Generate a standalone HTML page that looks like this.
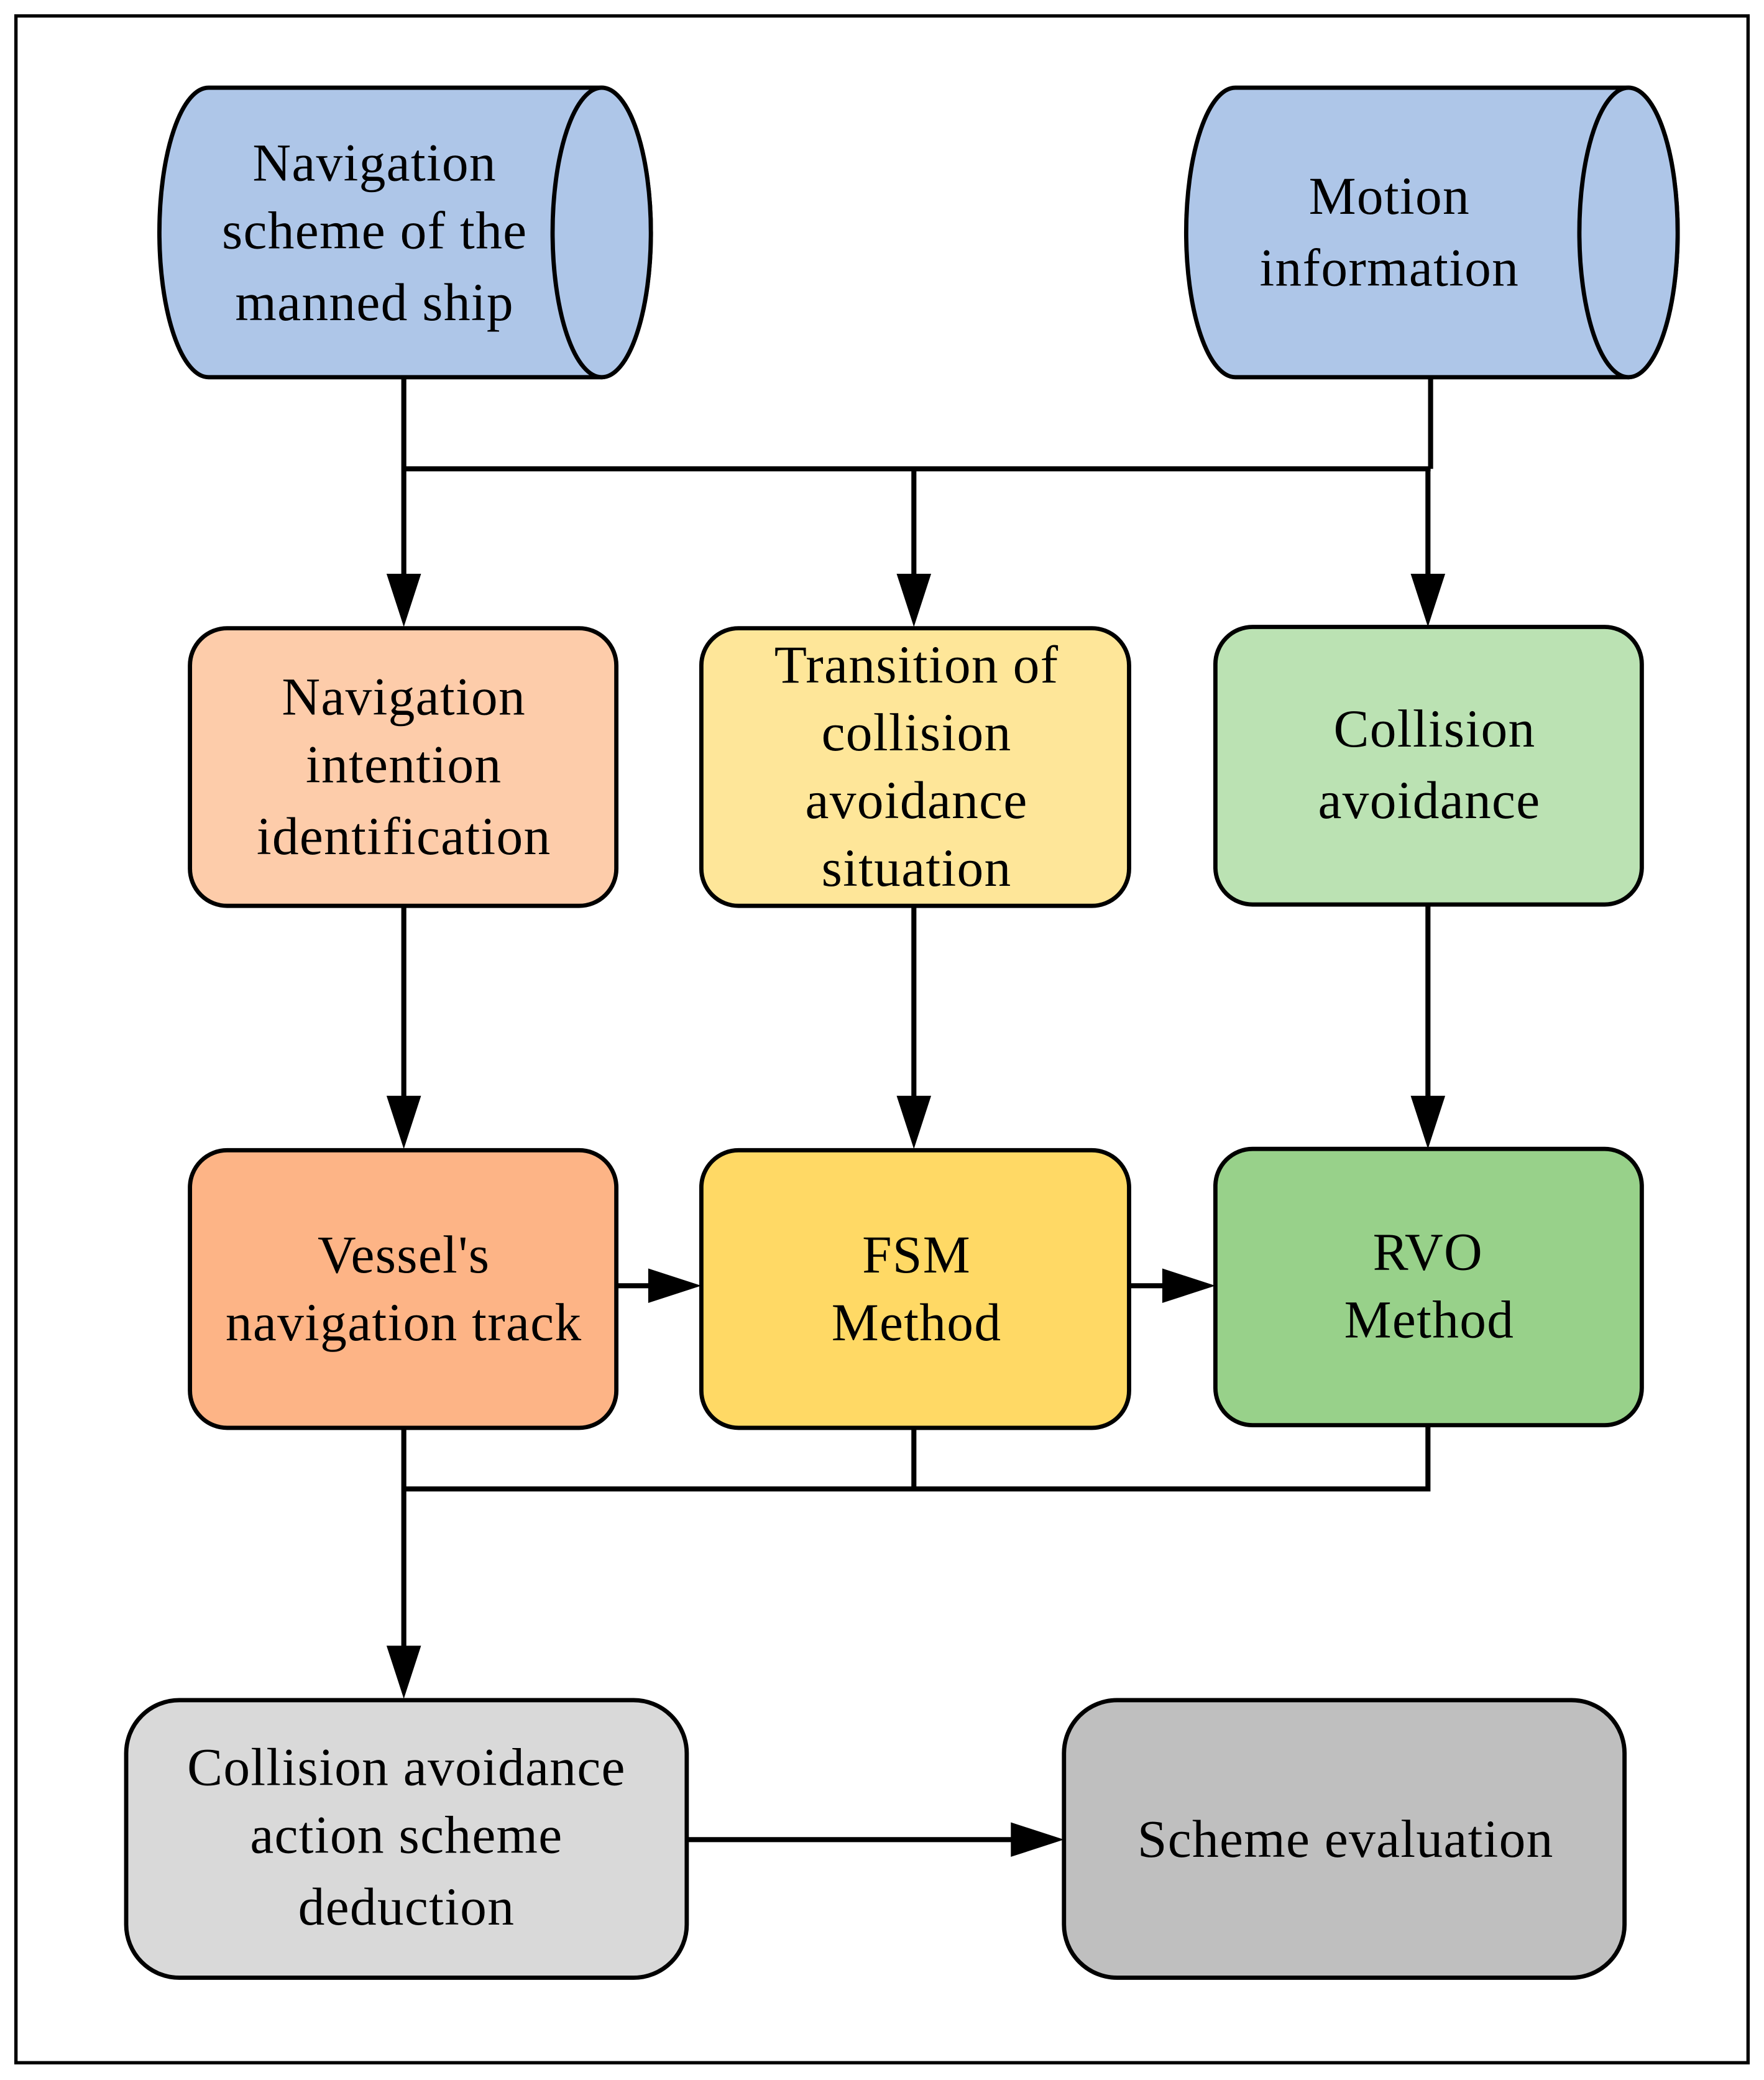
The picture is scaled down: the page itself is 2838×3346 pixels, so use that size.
<!DOCTYPE html>
<html><head><meta charset="utf-8"><style>
html,body{margin:0;padding:0;background:#fff;}
svg{display:block;}
text{font-family:"Liberation Serif",serif;font-size:40px;fill:#000;text-anchor:middle;letter-spacing:0.6px;}
</style></head><body>
<svg width="2838" height="3346" viewBox="0 0 1328 1566" preserveAspectRatio="none" xmlns="http://www.w3.org/2000/svg">
<rect x="12" y="12" width="1304" height="1541" fill="#fff" stroke="#000" stroke-width="2.5"/>
<g stroke="#000" stroke-width="3.2" fill="#aec6e8">
<path d="M157,66 L453,66 A37,109 0 0 1 453,284 L157,284 A37,109 0 0 1 157,66 Z"/>
<ellipse cx="453" cy="175" rx="37" ry="109"/>
<path d="M930,66 L1226,66 A37,109 0 0 1 1226,284 L930,284 A37,109 0 0 1 930,66 Z"/>
<ellipse cx="1226" cy="175" rx="37" ry="109"/>
</g>
<text x="282" y="136">Navigation</text>
<text x="282" y="187">scheme of the</text>
<text x="282" y="241">manned ship</text>
<text x="1046" y="161">Motion</text>
<text x="1046" y="215">information</text>
<g stroke="#000" stroke-width="3.8" fill="none">
<path d="M304,284 V440 M304,353 H1077 M1077,284 V353 M688,353 V440 M1075,353 V440"/>
<path d="M304,682 V832 M688,682 V832 M1075,682 V832"/>
<path d="M464,968 H494 M850,968 H880"/>
<path d="M304,1075 V1246 M304,1121 H1075 V1073 M688,1075 V1121"/>
<path d="M517,1385 H767"/>
</g>
<g fill="#000">
<path d="M291,432 L317,432 L304,472 Z"/>
<path d="M675,432 L701,432 L688,472 Z"/>
<path d="M1062,432 L1088,432 L1075,472 Z"/>
<path d="M291,825 L317,825 L304,865 Z"/>
<path d="M675,825 L701,825 L688,865 Z"/>
<path d="M1062,825 L1088,825 L1075,865 Z"/>
<path d="M488,955 L488,981 L528,968 Z"/>
<path d="M875,955 L875,981 L915,968 Z"/>
<path d="M291,1239 L317,1239 L304,1279 Z"/>
<path d="M761,1372 L761,1398 L801,1385 Z"/>
</g>
<g stroke="#000" stroke-width="3.2">
<rect x="143" y="473" width="321" height="209" rx="28" fill="#fdccaa"/>
<rect x="528" y="473" width="322" height="209" rx="28" fill="#fee699"/>
<rect x="915" y="472" width="321" height="209" rx="28" fill="#bbe2b3"/>
<rect x="143" y="866" width="321" height="209" rx="28" fill="#fdb486"/>
<rect x="528" y="866" width="322" height="209" rx="28" fill="#ffd965"/>
<rect x="915" y="865" width="321" height="208" rx="28" fill="#98d18a"/>
<rect x="95" y="1280" width="422" height="209" rx="40" fill="#d9d9d9"/>
<rect x="801" y="1280" width="422" height="209" rx="40" fill="#bfbfbf"/>
</g>
<text x="304" y="538">Navigation</text>
<text x="304" y="589">intention</text>
<text x="304" y="643">identification</text>
<text x="690" y="514">Transition  of</text>
<text x="690" y="565">collision</text>
<text x="690" y="616">avoidance</text>
<text x="690" y="667">situation</text>
<text x="1080" y="562">Collision</text>
<text x="1076" y="616">avoidance</text>
<text x="304" y="958">Vessel's</text>
<text x="304" y="1009">navigation track</text>
<text x="690" y="958">FSM</text>
<text x="690" y="1009">Method</text>
<text x="1075" y="956">RVO</text>
<text x="1076" y="1007">Method</text>
<text x="306" y="1344">Collision avoidance</text>
<text x="306" y="1395">action scheme</text>
<text x="306" y="1449">deduction</text>
<text x="1013" y="1398">Scheme evaluation</text>
</svg>
</body></html>
